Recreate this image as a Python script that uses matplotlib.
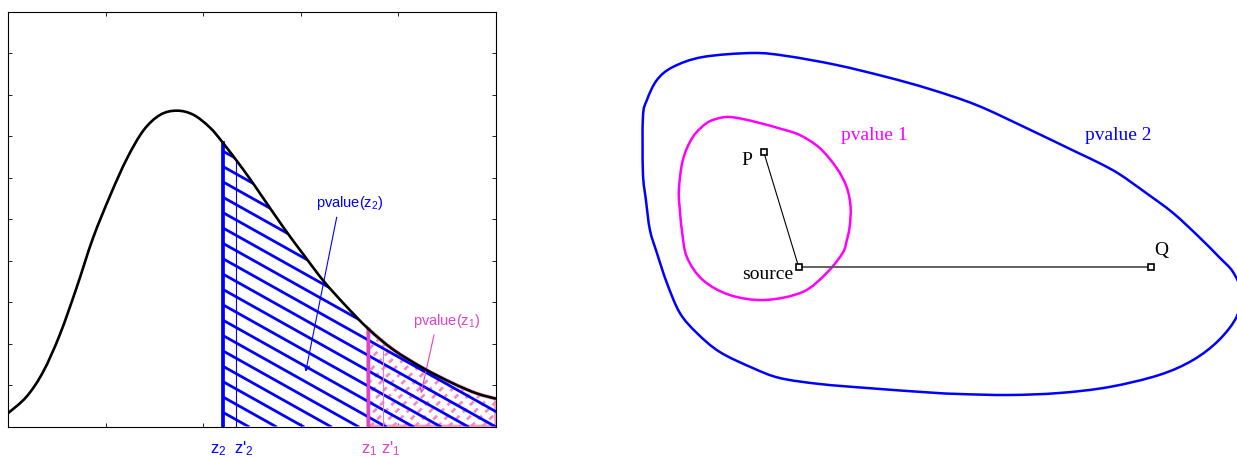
import numpy as np
import matplotlib.pyplot as plt
from matplotlib.path import Path
from matplotlib.patches import PathPatch
from matplotlib.transforms import blended_transform_factory

plt.rcParams['font.family'] = ['Liberation Sans', 'DejaVu Sans']
plt.rcParams['mathtext.fontset'] = 'custom'
plt.rcParams['mathtext.rm'] = 'Liberation Sans'
plt.rcParams['mathtext.it'] = 'Liberation Sans'

# density curve (x from 0 to 5, y from 0 to 10)
curve_x = [0.0, 0.19, 0.36, 0.53, 0.70, 0.87, 1.05, 1.22, 1.39, 1.56, 1.73, 1.90, 2.07,
           2.20, 2.41, 2.58, 2.82, 3.03, 3.23, 3.45, 3.69, 3.95, 4.26, 4.56, 4.80, 5.0]
curve_y = [0.32, 0.72, 1.32, 2.21, 3.33, 4.54, 5.59, 6.47, 7.15, 7.52, 7.62, 7.52, 7.21,
           6.85, 6.20, 5.63, 4.81, 4.14, 3.52, 2.94, 2.36, 1.85, 1.40, 1.04, 0.80, 0.67]

# thresholds z2, z'2, z1, z'1
z2, z2p, z1, z1p = 2.20, 2.34, 3.69, 3.84
z_labels = ["z$_2$", "z'$_2$", "z$_1$", "z'$_1$"]

# right panel: iso-pvalue contours and points (image-like coordinates)
outer_x = [643, 647, 657, 673, 703, 753, 787, 837, 887, 930, 977, 1027, 1077, 1100, 1120,
           1147, 1174, 1200, 1220, 1234, 1242, 1238, 1220, 1194, 1160, 1110, 1060, 1010, 960,
           930, 870, 820, 780, 753, 720, 697, 680, 667, 657, 650, 646, 643, 643]
outer_y = [117, 100, 80, 67, 57, 53, 56, 65, 77, 89, 105, 128, 152, 163, 174,
           193, 213, 237, 257, 272, 292, 316, 340, 360, 375, 387, 393, 395, 394,
           392.5, 388.2, 384, 378, 368, 352, 333, 313, 283, 253, 230, 200, 173, 117]
inner_x = [730, 743, 760, 780, 800, 820, 837, 847, 851, 850, 847, 843, 827, 803, 765, 730,
           703, 687, 682, 680, 679, 683, 693, 707, 720, 730]
inner_y = [117, 119, 123, 128.5, 135, 148, 168, 187, 207, 227, 241, 253, 273, 292, 300, 295,
           280, 257, 230, 210, 190, 160, 137, 123, 118, 117]
pt_names = ["P", "source", "Q"]
pt_x = [764, 799, 1152]
pt_y = [152, 267, 267]

BLUE = '#0000ff'
MAG = '#ff00ff'
PINK_DARK = '#d646c6'
PINK_LIGHT = '#f5a0c8'


def bezier_segments(xs, ys, start, stop, closed=False):
    # smooth curve through the read points (Catmull-Rom drawn as cubic Bezier)
    pts = np.column_stack([xs, ys]).astype(float)
    n = len(pts)
    verts, codes = [], []
    for i in range(start, stop):
        p0 = pts[i - 1] if i > 0 else (pts[-2] if closed else pts[i])
        p1, p2 = pts[i], pts[i + 1]
        p3 = pts[i + 2] if i + 2 < n else (pts[1] if closed else pts[i + 1])
        verts += [p1 + (p2 - p0) / 6, p2 - (p3 - p1) / 6, p2]
        codes += [Path.CURVE4] * 3
    return verts, codes


def smooth_line(xs, ys, closed=False):
    v, c = bezier_segments(xs, ys, 0, len(xs) - 1, closed)
    return Path([(xs[0], ys[0])] + v, [Path.MOVETO] + c)


def tail_region(xs, ys, i0, xend):
    v, c = bezier_segments(xs, ys, i0, len(xs) - 1)
    verts = [(xs[i0], 0), (xs[i0], ys[i0])] + v + [(xend, 0), (xs[i0], 0)]
    codes = [Path.MOVETO, Path.LINETO] + c + [Path.LINETO, Path.CLOSEPOLY]
    return Path(verts, codes)


fig = plt.figure(figsize=(12.37, 4.57), dpi=100)

# ---- left panel ----
ax = fig.add_axes([8 / 1237, 30.5 / 457, 488 / 1237, 414.5 / 457])
ax.set_xlim(0, 5)
ax.set_ylim(0, 10)
ax.set_xticks(range(6))
ax.set_yticks(range(11))
ax.tick_params(direction='in', top=True, right=True, length=3, width=0.6,
               labelbottom=False, labelleft=False)
for sp in ax.spines.values():
    sp.set_linewidth(0.8)

cx = np.array(curve_x)
cy = np.array(curve_y)
i2 = curve_x.index(z2)
i1 = curve_x.index(z1)

blue_poly = PathPatch(tail_region(curve_x, curve_y, i2, 5.0), facecolor='none',
                      edgecolor='none')
ax.add_patch(blue_poly)
pink_poly = PathPatch(tail_region(curve_x, curve_y, i1, 5.0), facecolor='none',
                      edgecolor=PINK_LIGHT, lw=2.8, zorder=2)
ax.add_patch(pink_poly)

# pink dashed hatching "/"
for k in range(40):
    x0 = z1 - 0.9 + k * 0.115
    ln, = ax.plot([x0, x0 + 1.0], [0, 2.355], color='#f688c0', lw=1.9,
                  linestyle=(0, (2, 1.8)), zorder=2)
    ln.set_clip_path(pink_poly)

# blue hatching "\"
slope = 1.319
for k in range(20):
    xb = 2.462 + k * 0.281
    ln, = ax.plot([xb - 6, xb], [6 * slope, 0], color=BLUE, lw=2.0, zorder=3)
    ln.set_clip_path(blue_poly)

ax.plot([z2, z2], [0, curve_y[i2]], color=BLUE, lw=2.7, zorder=4)
ax.plot([z2p, z2p], [0, np.interp(z2p, cx, cy)], color=BLUE, lw=0.8, zorder=4)
ax.plot([z1, z1], [0, curve_y[i1]], color=PINK_DARK, lw=2.5, zorder=4)
ax.plot([z1p, z1p], [0, np.interp(z1p, cx, cy) * 0.88], color='#e27ad8', lw=0.8, zorder=4)

ax.add_patch(PathPatch(smooth_line(curve_x, curve_y), facecolor='none', edgecolor='black',
                       lw=1.9, zorder=5))

# labels and arrows
ax.text(3.497, 5.30, "pvalue(z$_2$)", color=BLUE, fontsize=10.5, ha='center', va='baseline')
ax.annotate('', xy=(3.05, 1.32), xytext=(3.368, 5.05),
            arrowprops=dict(arrowstyle='->', color=BLUE, lw=0.8, shrinkA=0, shrinkB=0,
                            mutation_scale=9))
ax.text(4.50, 2.45, "pvalue(z$_1$)", color='#dc46c8', fontsize=10.5, ha='center', va='baseline')
ax.annotate('', xy=(4.232, 0.80), xytext=(4.365, 2.21),
            arrowprops=dict(arrowstyle='->', color='#dc46c8', lw=0.8, shrinkA=0, shrinkB=0,
                            mutation_scale=9))

trans = blended_transform_factory(ax.transData, ax.transAxes)
lab_x = [z2 - 0.045, z2p + 0.075, z1 + 0.01, z1p + 0.08]
lab_c = [BLUE, BLUE, PINK_DARK, PINK_DARK]
for lx, lt, lc in zip(lab_x, z_labels, lab_c):
    ax.text(lx, -0.065, lt, color=lc, fontsize=12, ha='center', va='baseline',
            transform=trans, clip_on=False)

# ---- right panel ----
ax2 = fig.add_axes([600 / 1237, 0, 637 / 1237, 1])
ax2.set_xlim(600, 1238)
ax2.set_ylim(457, 0)
ax2.axis('off')

ax2.add_patch(PathPatch(smooth_line(outer_x, outer_y, closed=True), facecolor='none',
                        edgecolor=BLUE, lw=1.8))
ax2.add_patch(PathPatch(smooth_line(inner_x, inner_y, closed=True), facecolor='none',
                        edgecolor=MAG, lw=1.8))
ax2.plot([pt_x[0], pt_x[1]], [pt_y[0], pt_y[1]], color='black', lw=0.8)
ax2.plot([pt_x[1], pt_x[2]], [pt_y[1], pt_y[2]], color='#555555', lw=1.3)
ax2.plot(pt_x, pt_y, linestyle='none', marker='s', markersize=4.5, mfc='white',
         mec='black', mew=1.2, zorder=5)

serif = ['Liberation Serif', 'DejaVu Serif']
ax2.text(841.7, 140, "pvalue 1", color=MAG, fontsize=14, family=serif, ha='left', va='baseline')
ax2.text(1085.3, 140, "pvalue 2", color=BLUE, fontsize=14, family=serif, ha='left', va='baseline')
name_pos = [(741.7, 165), (742.3, 279), (1154.7, 255)]
for name, (tx, ty) in zip(pt_names, name_pos):
    ax2.text(tx, ty, name, color='black', fontsize=14, family=serif, ha='left', va='baseline')

fig.savefig('out.png', dpi=100)
